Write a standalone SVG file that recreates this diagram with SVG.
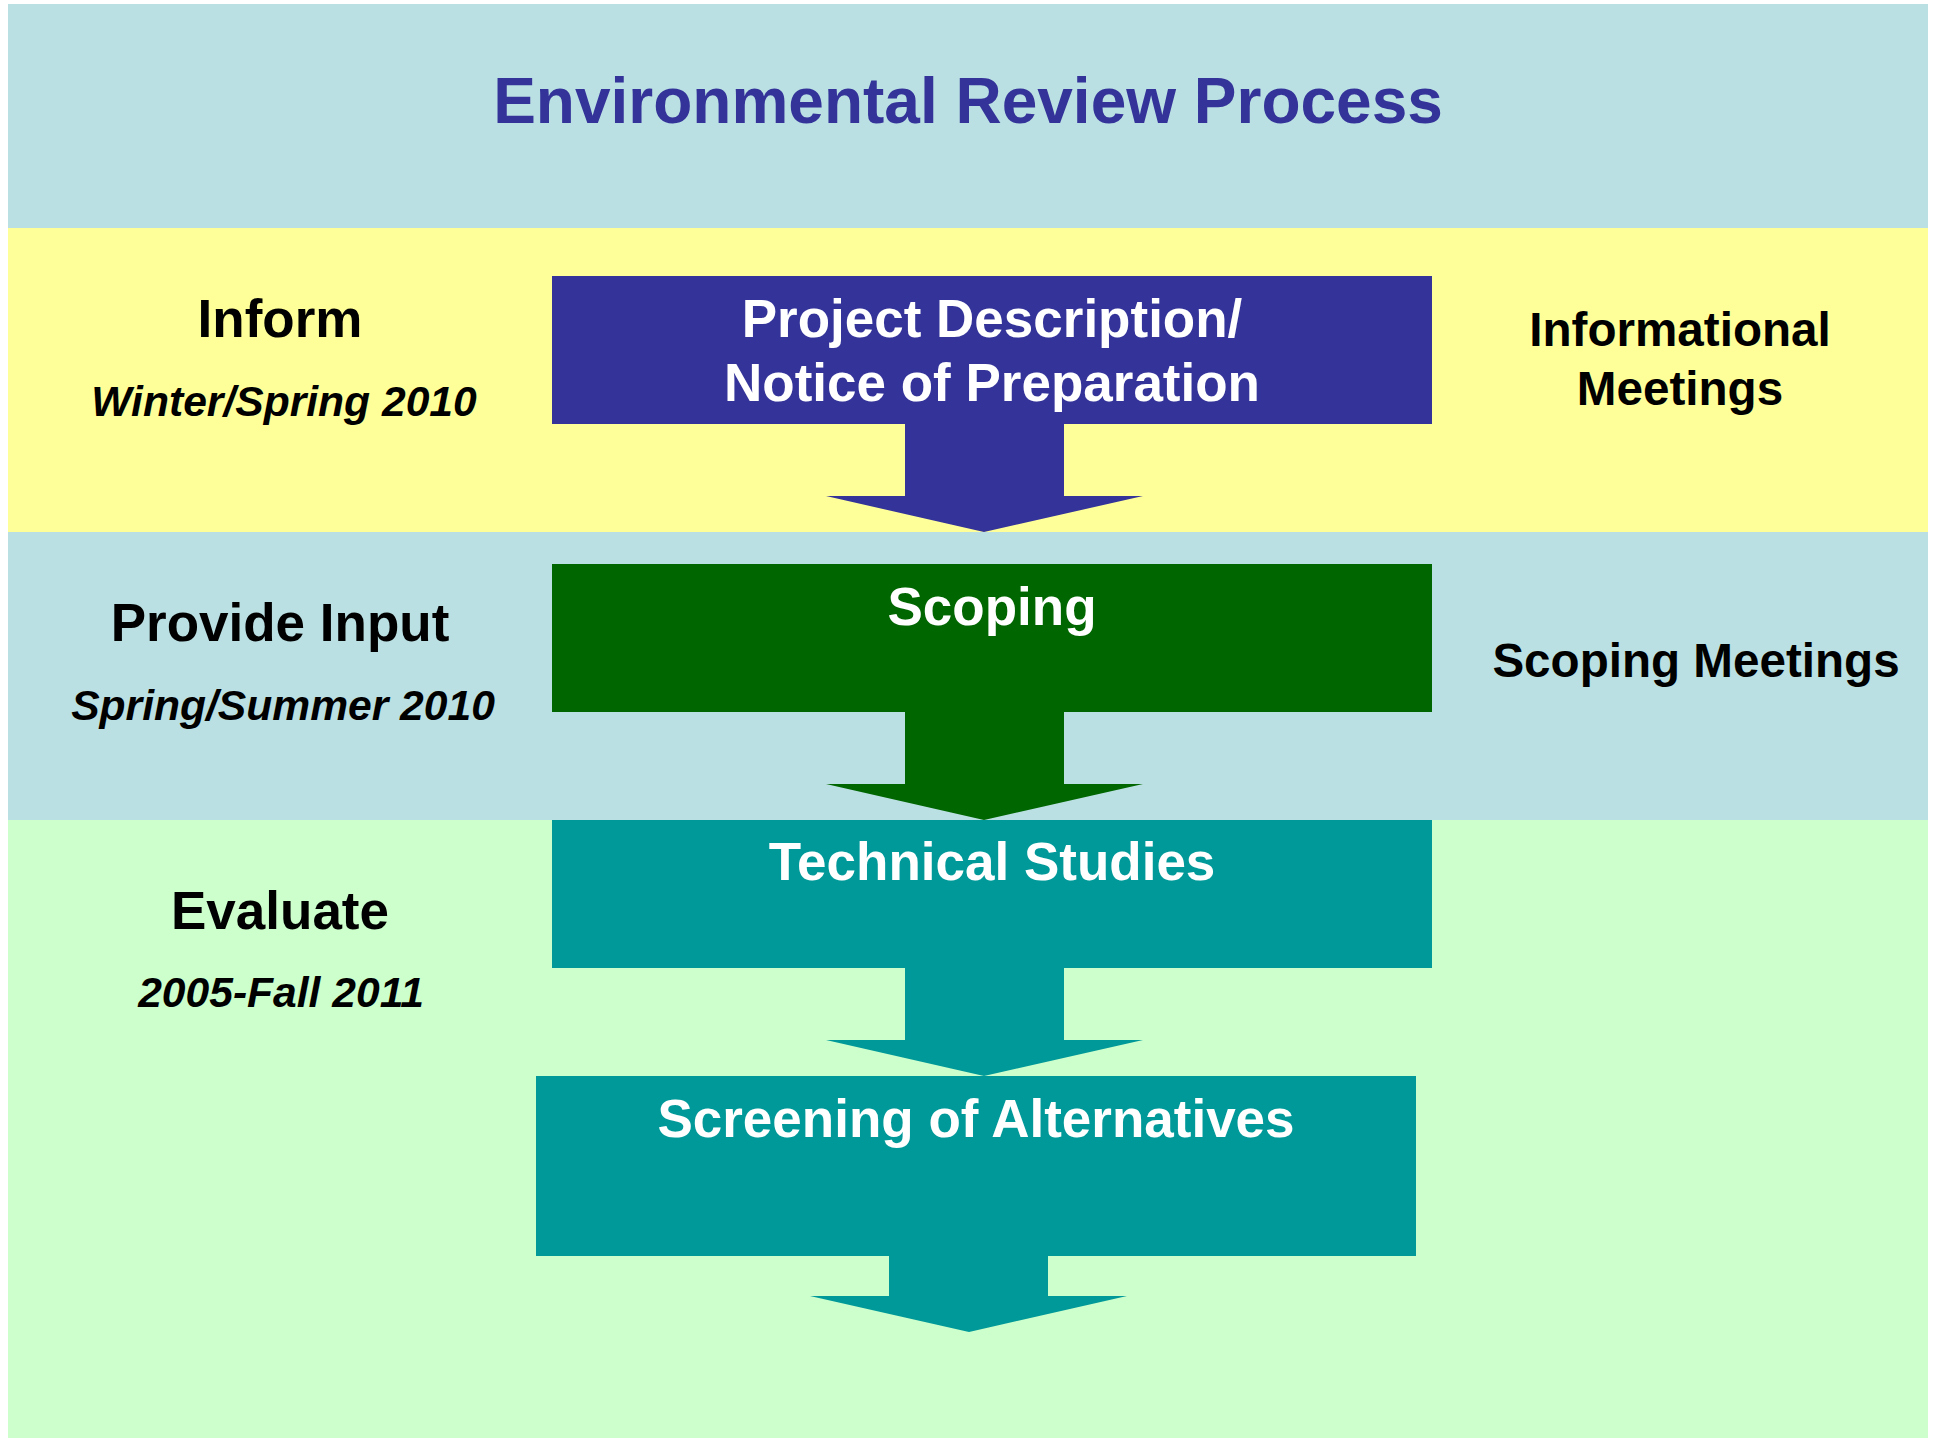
<svg xmlns="http://www.w3.org/2000/svg" width="1935" height="1439" viewBox="0 0 1935 1439">
<style>
text{font-family:"Liberation Sans",Arial,sans-serif;font-weight:bold;text-anchor:middle}
.w{fill:#FFFFFF;font-size:53px}
.k{fill:#000000;font-size:53px}
.i{fill:#000000;font-size:42.6px;font-style:italic}
.r{fill:#000000;font-size:47.6px}
</style>
<rect x="0" y="0" width="1935" height="1439" fill="#FFFFFF"/>
<g id="bands">
<rect x="8" y="4" width="1920" height="224" fill="#BBE0E3"/>
<rect x="8" y="228" width="1920" height="304" fill="#FFFF99"/>
<rect x="8" y="532" width="1920" height="288" fill="#BBE0E3"/>
<rect x="8" y="820" width="1920" height="618" fill="#CCFFCC"/>
</g>
<g id="title"><text x="968" y="123" style="font-size:64px;fill:#333399">Environmental Review Process</text></g>
<g id="connectors">
<polygon points="905,423 1064,423 1064,496 1143,496 984,532 826,496 905,496" fill="#333399"/>
<polygon points="905,711 1064,711 1064,784 1143,784 984,820 826,784 905,784" fill="#006600"/>
<polygon points="905,967 1064,967 1064,1040 1143,1040 984,1076 826,1040 905,1040" fill="#009999"/>
<polygon points="889,1255 1048,1255 1048,1296 1127,1296 969,1332 810,1296 889,1296" fill="#009999"/>
</g>
<g id="node-project">
<rect x="552" y="276" width="880" height="148" fill="#333399"/>
<text class="w" x="992" y="337">Project Description/</text>
<text class="w" x="992" y="401">Notice of Preparation</text>
</g>
<g id="node-scoping">
<rect x="552" y="564" width="880" height="148" fill="#006600"/>
<text class="w" x="992" y="625">Scoping</text>
</g>
<g id="node-technical">
<rect x="552" y="820" width="880" height="148" fill="#009999"/>
<text class="w" x="992" y="880">Technical Studies</text>
</g>
<g id="node-screening">
<rect x="536" y="1076" width="880" height="180" fill="#009999"/>
<text class="w" x="976" y="1137">Screening of Alternatives</text>
</g>
<g id="label-inform">
<text class="k" x="280" y="337">Inform</text>
<text class="i" x="284" y="416">Winter/Spring 2010</text>
</g>
<g id="label-input">
<text class="k" x="280" y="641">Provide Input</text>
<text class="i" x="283" y="720">Spring/Summer 2010</text>
</g>
<g id="label-evaluate">
<text class="k" x="280" y="929">Evaluate</text>
<text class="i" x="281" y="1007">2005-Fall 2011</text>
</g>
<g id="label-informational">
<text class="r" x="1680" y="346">Informational</text>
<text class="r" x="1680" y="405">Meetings</text>
</g>
<g id="label-scoping-meetings">
<text class="r" x="1696" y="677">Scoping Meetings</text>
</g>
</svg>
